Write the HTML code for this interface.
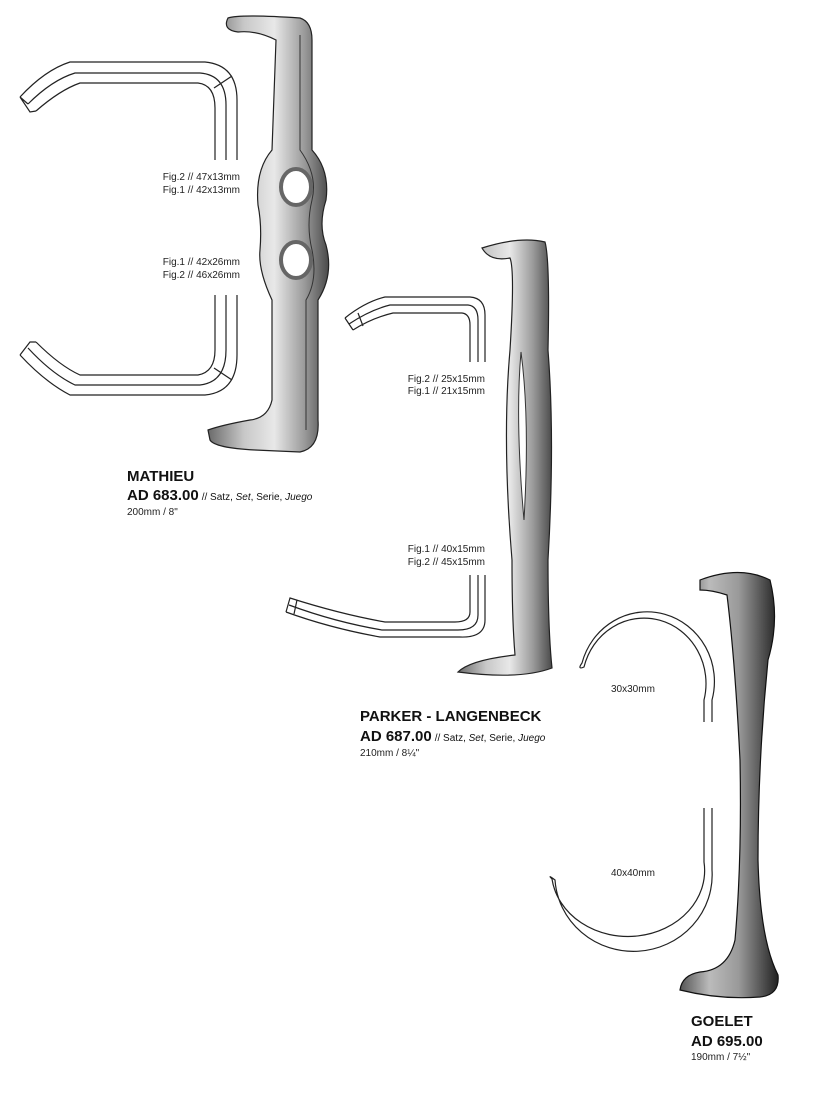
<!DOCTYPE html>
<html><head><meta charset="utf-8"><style>
html,body{margin:0;padding:0;background:#fff}
svg{display:block}
text{font-family:"Liberation Sans",Arial,sans-serif;fill:#222}
.s{font-size:10px}
.b{font-size:15px;font-weight:bold;fill:#111}
</style></head><body>
<svg width="826" height="1101" viewBox="0 0 826 1101" xmlns="http://www.w3.org/2000/svg">
<defs>
<linearGradient id="m" x1="0" x2="1" y1="0" y2="0">
<stop offset="0" stop-color="#6a6a6a"/><stop offset="0.3" stop-color="#c8c8c8"/><stop offset="0.55" stop-color="#e8e8e8"/><stop offset="0.8" stop-color="#9a9a9a"/><stop offset="1" stop-color="#4a4a4a"/>
</linearGradient>
<linearGradient id="g" x1="0" x2="1" y1="0" y2="0">
<stop offset="0" stop-color="#555"/><stop offset="0.3" stop-color="#bbb"/><stop offset="0.6" stop-color="#999"/><stop offset="1" stop-color="#222"/>
</linearGradient>
</defs>
<g fill="none" stroke="#222" stroke-width="1.2">
<path d="M20,97 Q45,70 70,62 L205,62 Q237,65 237,100 L237,160"/>
<path d="M28,104 Q52,80 75,73 L200,73 Q226,75 226,105 L226,160"/>
<path d="M36,111 Q60,90 80,83 L198,83 Q215,85 215,108 L215,160"/>
<path d="M20,97 L30,112 L36,111 M28,104 L20,97"/>
<path d="M214,88 L232,76"/>
<path d="M20,355 Q45,382 70,395 L205,395 Q237,392 237,355 L237,295"/>
<path d="M28,348 Q52,374 75,385 L200,385 Q226,382 226,350 L226,295"/>
<path d="M36,342 Q60,366 80,375 L198,375 Q215,372 215,350 L215,295"/>
<path d="M20,355 L30,342 L36,342"/>
<path d="M214,368 L232,380"/>
<path d="M345,318 Q365,302 385,297 L470,297 Q485,298 485,315 L485,362"/>
<path d="M349,324 Q370,310 390,305 L468,305 Q478,306 478,320 L478,362"/>
<path d="M353,330 Q372,318 393,313 L462,313 Q470,314 470,325 L470,362"/>
<path d="M345,318 L353,330 M358,313 L363,326"/>
<path d="M485,575 L485,620 Q485,638 460,637 L380,637 Q330,628 286,612"/>
<path d="M478,575 L478,615 Q478,630 458,630 L382,630 Q335,622 289,605"/>
<path d="M470,575 L470,612 Q470,622 455,622 L385,622 Q340,614 290,598 L286,612"/>
<path d="M297,600 L294,614"/>
<path d="M712,722 L712,700 A60,62 0 0 0 582,663 Q577,670 584,667 A55,58 0 0 1 704,700 L704,722"/>
<path d="M712,808 L712,870 A70,68 0 0 1 555,880 Q547,874 552,879 A72,62 0 0 0 704,862 L704,808"/>
</g>
<path d="M228,18 Q240,14 300,18 Q312,22 312,40 L312,150 Q330,170 326,200 Q318,225 326,245 Q334,275 318,300 L318,420 Q320,448 300,452 L255,450 Q215,448 210,440 L208,430 Q222,425 250,420 Q268,418 272,400 L272,300 Q258,270 260,250 Q262,225 258,205 Q255,170 272,150 L276,40 Q256,30 238,32 Q222,30 228,18 Z" fill="url(#m)" stroke="#222" stroke-width="1.2"/>
<path d="M300,35 L300,150 Q318,175 312,200 Q306,225 312,250 Q318,280 306,300 L306,430" fill="none" stroke="#333" stroke-width="1"/>
<ellipse cx="296" cy="187" rx="15" ry="18" fill="#fff" stroke="#666" stroke-width="4"/>
<ellipse cx="296" cy="260" rx="15" ry="18" fill="#fff" stroke="#666" stroke-width="4"/>
<path d="M482,248 Q520,236 545,242 Q550,260 548,350 Q555,440 548,560 Q548,630 552,668 Q520,680 458,672 Q470,660 515,655 Q512,620 512,560 Q502,440 510,350 Q515,270 510,258 Q490,262 482,248 Z" fill="url(#m)" stroke="#222" stroke-width="1.2"/>
<path d="M521,352 Q530,420 524,520 Q515,420 521,352 Z" fill="#fff" stroke="#333"/>
<path d="M700,580 Q740,565 770,580 Q780,620 768,660 Q758,760 758,860 Q760,940 778,975 Q780,995 760,997 Q720,1000 680,990 Q682,975 700,972 Q728,970 735,940 Q742,860 740,760 Q735,660 727,595 Q712,590 700,590 Z" fill="url(#g)" stroke="#111" stroke-width="1.2"/>
<g class="s" text-anchor="end">
<text x="240" y="180">Fig.2 // 47x13mm</text>
<text x="240" y="193">Fig.1 // 42x13mm</text>
<text x="240" y="265">Fig.1 // 42x26mm</text>
<text x="240" y="278">Fig.2 // 46x26mm</text>
<text x="485" y="382">Fig.2 // 25x15mm</text>
<text x="485" y="394">Fig.1 // 21x15mm</text>
<text x="485" y="552">Fig.1 // 40x15mm</text>
<text x="485" y="565">Fig.2 // 45x15mm</text>
</g>
<text class="s" x="611" y="692">30x30mm</text>
<text class="s" x="611" y="876">40x40mm</text>
<text class="b" x="127" y="481">MATHIEU</text>
<text class="b" x="127" y="500">AD 683.00<tspan class="s" style="font-weight:normal" dx="3">// Satz, <tspan font-style="italic">Set</tspan>, Serie, <tspan font-style="italic">Juego</tspan></tspan></text>
<text class="s" x="127" y="515">200mm / 8"</text>
<text class="b" x="360" y="721">PARKER - LANGENBECK</text>
<text class="b" x="360" y="741">AD 687.00<tspan class="s" style="font-weight:normal" dx="3">// Satz, <tspan font-style="italic">Set</tspan>, Serie, <tspan font-style="italic">Juego</tspan></tspan></text>
<text class="s" x="360" y="756">210mm / 8¼"</text>
<text class="b" x="691" y="1026">GOELET</text>
<text class="b" x="691" y="1046">AD 695.00</text>
<text class="s" x="691" y="1060">190mm / 7½"</text>
</svg>
</body></html>
